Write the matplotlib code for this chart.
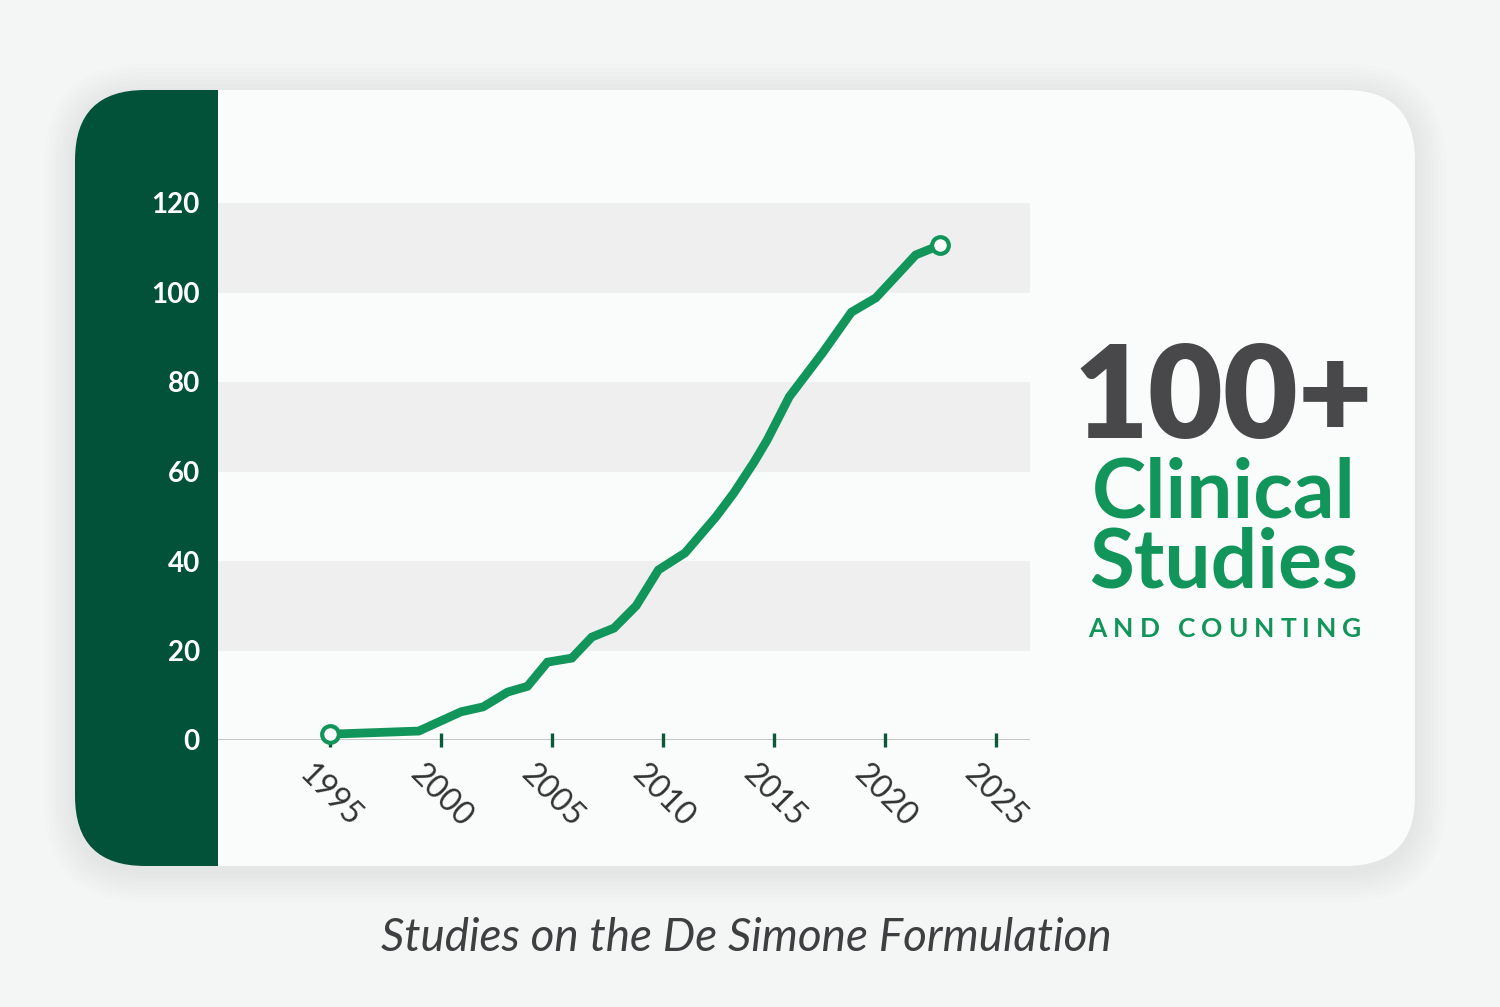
import matplotlib.pyplot as plt
from matplotlib.patches import FancyBboxPatch, Rectangle

years = [1995, 1999, 2000.9, 2001.9, 2003, 2003.9, 2004.8, 2005.9, 2006.8, 2007.8,
         2008.8, 2009.8, 2011, 2012.4, 2013.2, 2014.1, 2014.7, 2015.7, 2017.2,
         2018.5, 2019.6, 2021.4, 2022.5]
studies = [1.3, 2, 6.3, 7.4, 10.7, 12, 17.4, 18.3, 23, 25,
           30, 38, 41.8, 49.9, 55.2, 62, 67, 76.7, 86.5,
           95.6, 98.8, 108.4, 110.6]

x_ticks = [1995, 2000, 2005, 2010, 2015, 2020, 2025]
y_ticks = [0, 20, 40, 60, 80, 100, 120]
bands = [(20, 40), (60, 80), (100, 120)]

headline = "100+"
sub_lines = ["Clinical", "Studies"]
tagline = "AND COUNTING"
caption = "Studies on the De Simone Formulation"

BG = "#f4f5f5"
CARD = "#fafbfb"
BAND = "#efefef"
PANEL = "#02523a"
LINE = "#11955a"
GREY_TEXT = "#48484b"
FONT = "Lato"

fig = plt.figure(figsize=(15, 10.07), dpi=100, facecolor=BG)

# background layer in pixel coordinates
bg = fig.add_axes([0, 0, 1, 1], zorder=0)
bg.set_xlim(0, 1500)
bg.set_ylim(1007, 0)
bg.axis("off")

# soft shadow around the card
for i in range(8):
    pad = 3 + i * 4
    bg.add_patch(FancyBboxPatch((75 - pad, 90 - pad + 5), 1340 + 2 * pad, 776 + 2 * pad,
                                boxstyle=f"round,pad=0,rounding_size={70 + pad}",
                                facecolor="black", edgecolor="none", alpha=0.006))

bg.add_patch(FancyBboxPatch((75, 90), 1340, 776, boxstyle="round,pad=0,rounding_size=70",
                            facecolor=CARD, edgecolor="none"))
bg.add_patch(FancyBboxPatch((75, 90), 240, 776, boxstyle="round,pad=0,rounding_size=70",
                            facecolor=PANEL, edgecolor="none"))
bg.add_patch(Rectangle((218, 90), 110, 776, facecolor=CARD, edgecolor="none"))

# right-hand headline
bg.text(1223, 400, headline, ha="center", va="center", fontsize=93, fontweight="heavy",
        color=GREY_TEXT, family=FONT)
bg.text(1224, 494, sub_lines[0], ha="center", va="center", fontsize=59, fontweight="bold",
        color=LINE, family=FONT)
bg.text(1224, 564, sub_lines[1], ha="center", va="center", fontsize=59, fontweight="bold",
        color=LINE, family=FONT)

# letter-spaced tagline
renderer = fig.canvas.get_renderer()
track = 6.0
parts = []
for ch in tagline:
    t = bg.text(0, 629, ch, ha="left", va="center", fontsize=19, fontweight="bold",
                color=LINE, family=FONT)
    parts.append((t, t.get_window_extent(renderer).width))
total = sum(w for _, w in parts) + track * (len(parts) - 1)
cur = 1225 - total / 2
for t, w in parts:
    t.set_x(cur)
    cur += w + track

bg.text(746, 938, caption, ha="center", va="center", fontsize=33, fontweight="normal",
        style="italic", color="#3f3f41", family=FONT)

# chart
ax = fig.add_axes([218 / 1500, 267 / 1007, 812 / 1500, 537 / 1007], zorder=2)
ax.set_facecolor("none")
for lo, hi in bands:
    ax.axhspan(lo, hi, color=BAND, lw=0, zorder=0)
ax.axhline(0, color="#b5b5b5", lw=1.1, zorder=1)

ax.plot(years, studies, color=LINE, lw=6.3, solid_joinstyle="miter", solid_capstyle="butt",
        marker="o", markevery=[0, len(years) - 1], markersize=12, markerfacecolor="white",
        markeredgecolor=LINE, markeredgewidth=3, zorder=4, clip_on=False)

ax.set_xlim(1989.95, 2026.55)
ax.set_ylim(0, 120)
ax.set_xticks(x_ticks)
ax.set_xticklabels([str(y) for y in x_ticks], rotation=-45, ha="center", va="top",
                   fontsize=23, color="#333333", family=FONT)
ax.set_yticks(y_ticks)
ax.set_yticklabels([str(v) for v in y_ticks], fontsize=20, fontweight="bold",
                   color="white", family=FONT)
ax.tick_params(axis="x", direction="inout", length=10, width=2.4, color="#0a5a3a", pad=9)
ax.tick_params(axis="y", length=0, pad=13)
for s in ax.spines.values():
    s.set_visible(False)

fig.savefig("out.png", dpi=100, facecolor=BG)
